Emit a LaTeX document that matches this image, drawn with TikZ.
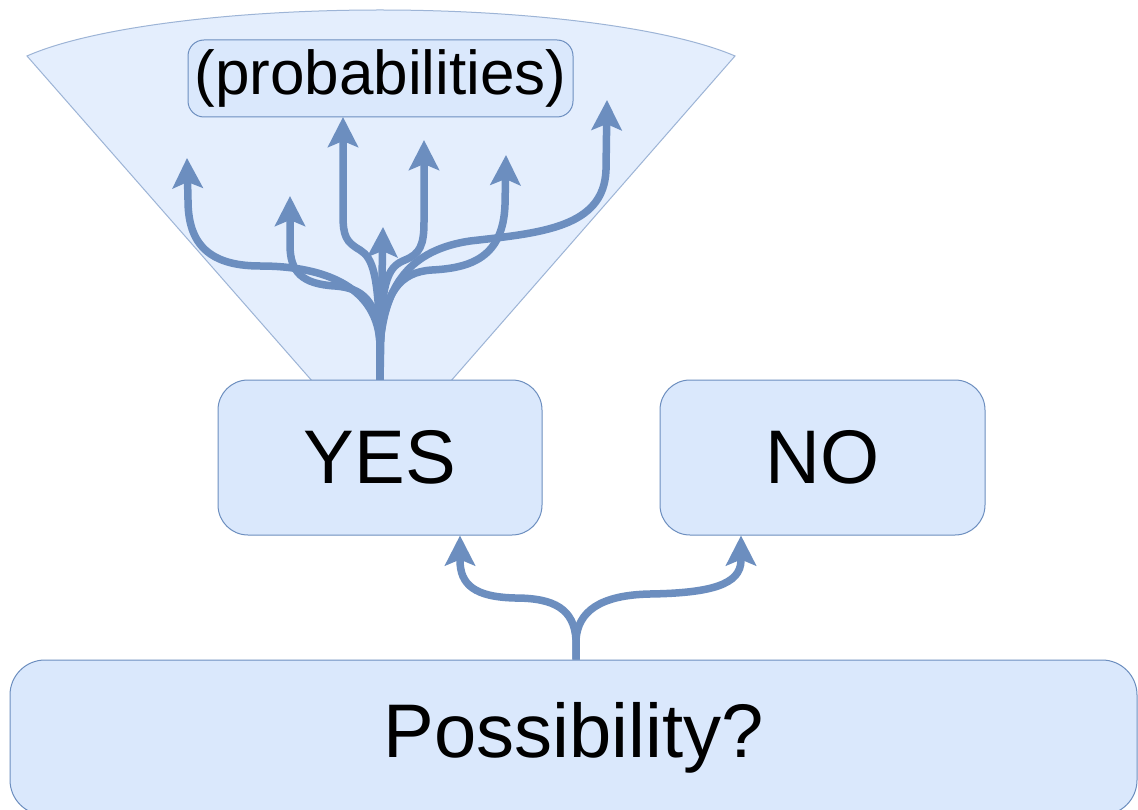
\documentclass[tikz,border=0pt]{standalone}
\usepackage{fontspec}
\setmainfont{Liberation Sans}
\usetikzlibrary{arrows.meta}
\definecolor{boxfill}{HTML}{DAE8FC}
\definecolor{boxline}{HTML}{6C8EBF}
\definecolor{conefill}{HTML}{E4EEFD}
\definecolor{coneline}{HTML}{9DB4D6}
\tikzset{
  box/.style={draw=boxline, fill=boxfill, line width=1pt, inner sep=0pt},
  bigtext/.style={font=\fontsize{76}{90}\selectfont},
  flow/.style={draw=boxline, line width=7.5pt,
    -{Stealth[length=30pt,width=30pt,inset=6pt]}},
}
\begin{document}
\begin{tikzpicture}[x=1pt,y=-1pt]
\clip (0,0) rectangle (1138,810);
\fill[white] (0,0) rectangle (1138,810);

% cone of outcomes above YES
\draw[fill=conefill, draw=coneline, line width=1pt]
  (313,382) -- (27,56)
  .. controls (90,28) and (230,10) .. (380,10)
  .. controls (530,10) and (670,28) .. (735,56)
  -- (450,382) -- cycle;

% boxes
\node[box, rounded corners=35pt, minimum width=1127pt, minimum height=155pt,
      bigtext] (poss) at (573.5,737.5) {Possibility?};
\node[box, rounded corners=30pt, minimum width=324pt, minimum height=155pt,
      bigtext] (yes) at (380,457.5) {YES};
\node[box, rounded corners=30pt, minimum width=325pt, minimum height=155pt,
      bigtext] (no) at (822.5,457.5) {NO};
\node[box, rounded corners=16pt, minimum width=385pt, minimum height=77pt,
      font=\fontsize{62}{74}\selectfont] (prob) at (380.5,78.5) {(probabilities)};

% arrow end points
\coordinate (split) at ([xshift=2.5pt]poss.north);
\coordinate (tyes) at ([xshift=80pt]yes.south);
\coordinate (tno) at ([xshift=-81.5pt]no.south);
\coordinate (t1) at (187,158);
\coordinate (t2) at (290,196);
\coordinate (t3) at (343,117);
\coordinate (t4) at (383,227);
\coordinate (t5) at (424,140);
\coordinate (t6) at (506,155);
\coordinate (t7) at (607,100);

% Possibility -> YES / NO
\draw[flow] (split) -- ++(0,-20)
  .. controls ++(-2,-30) and (555,598) .. (515,598)
  .. controls (475,597) and (460,585) .. (460,560) -- (tyes);
\draw[flow] (split) -- ++(0,-20)
  .. controls ++(2,-28) and (600,595) .. (650,594)
  .. controls (710,593) and (741,585) .. (741,560) -- (tno);

% YES -> probabilities fan
\draw[flow] (yes.north) -- ++(0,-35)
  .. controls (378,290) and (330,266) .. (260,266)
  .. controls (205,266) and (188,240) .. (188,200) -- (t1);
\draw[flow] (yes.north) -- ++(0,-35)
  .. controls (378,300) and (362,288) .. (335,286)
  .. controls (302,284) and (290,272) .. (290,245) -- (t2);
\draw[flow] (yes.north) -- ++(0,-40)
  .. controls (378,275) and (373,258) .. (360,250)
  .. controls (346,242) and (343,236) .. (343,215) -- (t3);
\draw[flow] (yes.north) -- (t4);
\draw[flow] (yes.north) -- ++(0,-40)
  .. controls (382,276) and (390,266) .. (405,260)
  .. controls (420,254) and (424,245) .. (424,222) -- (t5);
\draw[flow] (yes.north) -- ++(0,-35)
  .. controls (384,292) and (400,272) .. (432,270)
  .. controls (470,268) and (503,258) .. (505,205) -- (t6);
\draw[flow] (yes.north) -- ++(0,-35)
  .. controls (385,285) and (410,250) .. (470,241)
  .. controls (540,233) and (604,228) .. (606,170) -- (t7);
\end{tikzpicture}
\end{document}
